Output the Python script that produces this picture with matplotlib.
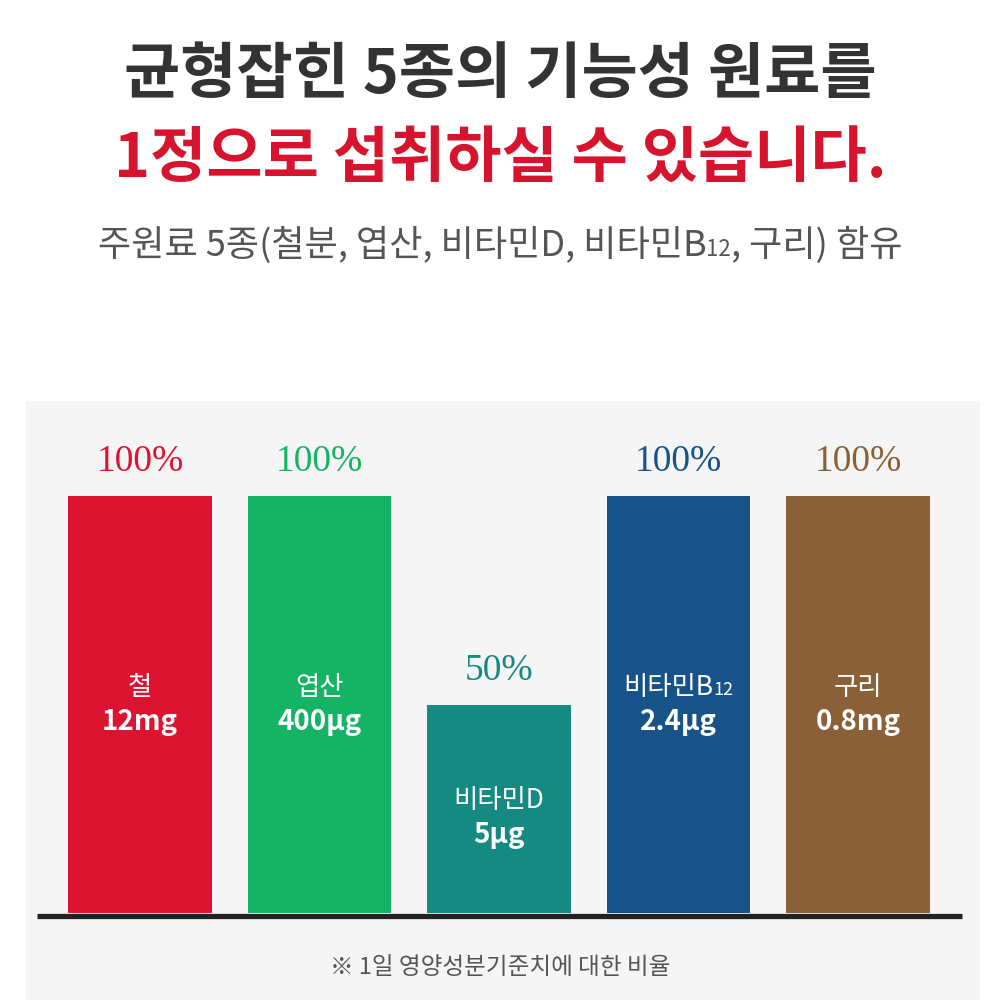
import numpy as np
import matplotlib
matplotlib.use("Agg")
import matplotlib.pyplot as plt
from matplotlib.offsetbox import TextArea, HPacker, AnnotationBbox

plt.rcParams["font.family"] = ["Noto Sans CJK KR", "DejaVu Sans"]

# ── Data ───────────────────────────────────────────────────────────────────────
names    = ["철", "엽산", "비타민D", "비타민B", "구리"]
name_sub = ["", "", "", "12", ""]
amounts  = ["12mg", "400µg", "5µg", "2.4µg", "0.8mg"]
pcts     = [100, 100, 50, 100, 100]
colors   = ["#dc1431", "#14b464", "#158a82", "#175389", "#8a6039"]

title1   = "균형잡힌 5종의 기능성 원료를"
title2   = "1정으로 섭취하실 수 있습니다."
subtitle = ["주원료 5종(철분, 엽산, 비타민D, 비타민B", "12", ", 구리) 함유"]
footnote = "※ 1일 영양성분기준치에 대한 비율"

# ── Figure ─────────────────────────────────────────────────────────────────────
fig = plt.figure(figsize=(10, 10), dpi=100, facecolor="white")

fig.text(0.5, 0.925, title1, ha="center", va="center", fontsize=44,
         fontweight="black", color="#333333")
fig.text(0.5, 0.840, title2, ha="center", va="center", fontsize=44,
         fontweight="black", color="#d7142d")

sub_props = dict(fontsize=26, color="#555555", fontweight="light")
sub_box = HPacker(children=[
    TextArea(subtitle[0], textprops=sub_props),
    TextArea(subtitle[1], textprops={**sub_props, "fontsize": 16}),
    TextArea(subtitle[2], textprops=sub_props),
], align="baseline", pad=0, sep=0)
fig.add_artist(AnnotationBbox(sub_box, (0.5, 0.755), xycoords="figure fraction",
                              frameon=False, box_alignment=(0.5, 0.5)))

# bar panel
px = 4.17  # pixels per percent
ax = fig.add_axes([0.026, 0.0, 0.954, 0.599])
ax.set_facecolor("#f5f5f5")
x = np.arange(len(names))
ax.bar(x, pcts, width=0.80, color=colors, zorder=2)
ax.hlines(-0.6, -0.574, 4.579, color="#222222", lw=3.8, zorder=3)
ax.set_xlim(-0.635, 4.680)
ax.set_ylim(-87 / px, 512 / px)
ax.axis("off")
ax.add_patch(plt.Rectangle((0, 0), 1, 1, transform=ax.transAxes,
                           facecolor="#f5f5f5", zorder=0))

for xi, n, ns, a, p, c in zip(x, names, name_sub, amounts, pcts, colors):
    ax.annotate(f"{p}%", (xi, p), xytext=(0, 12), textcoords="offset points",
                ha="center", va="bottom", fontsize=27, color=c,
                family=["Liberation Serif", "DejaVu Serif"])
    ny = p * 0.54
    if ns:
        box = HPacker(children=[
            TextArea(n, textprops=dict(fontsize=19, color="white", fontweight="light")),
            TextArea(ns, textprops=dict(fontsize=13, color="white", fontweight="light")),
        ], align="baseline", pad=0, sep=0)
        ax.add_artist(AnnotationBbox(box, (xi, ny), frameon=False,
                                     box_alignment=(0.5, 0.5)))
    else:
        ax.text(xi, ny, n, ha="center", va="center", fontsize=19,
                color="white", fontweight="light")
    ax.text(xi, ny - 8.3, a, ha="center", va="center", fontsize=20,
            color="white", fontweight="bold")

fig.text(0.5, 0.033, footnote, ha="center", va="center", fontsize=17,
         color="#555555", fontweight="light")

fig.savefig("out.png", dpi=100, facecolor="white")
